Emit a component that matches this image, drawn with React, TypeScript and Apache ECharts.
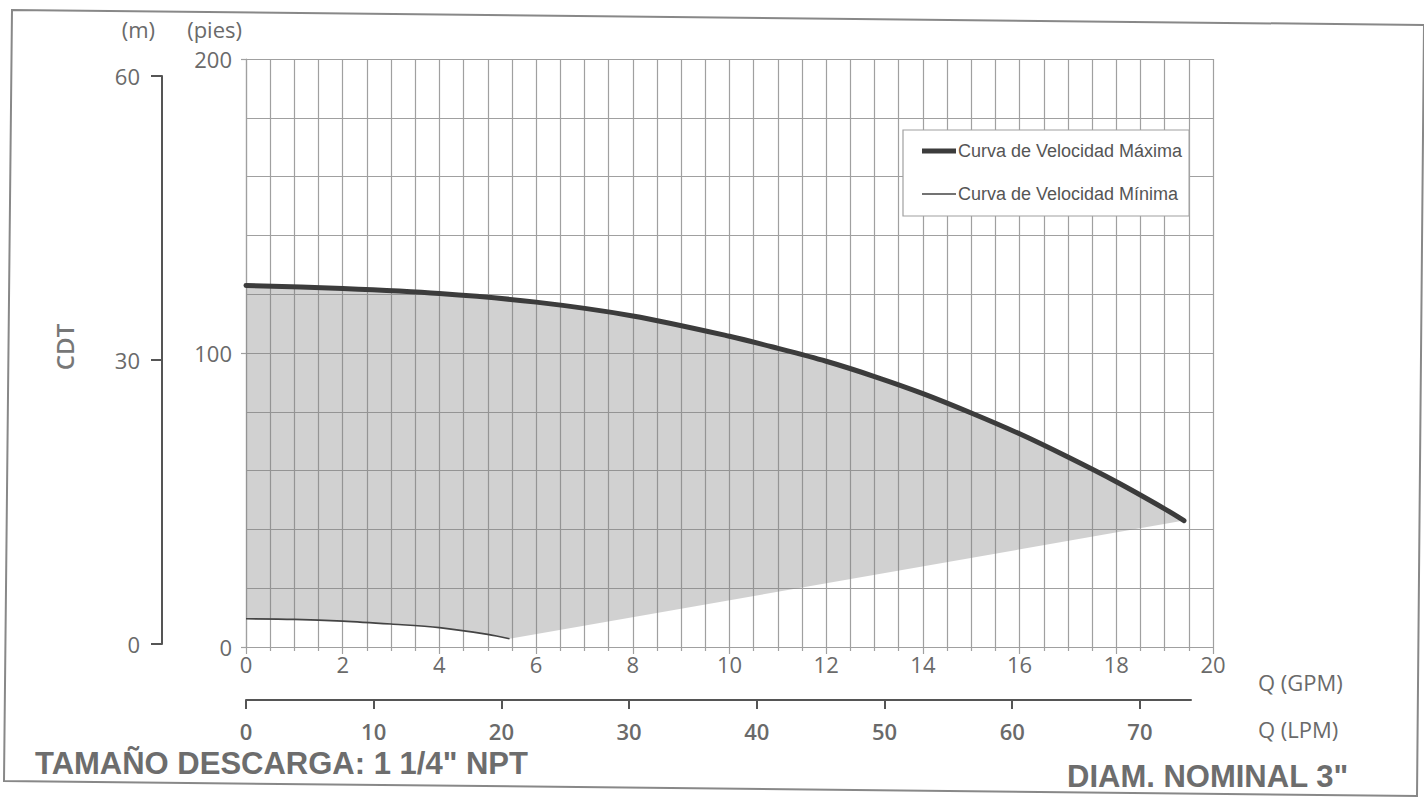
import React, { useEffect, useRef } from 'react';
import * as echarts from 'echarts';

// Q in GPM, H in feet (pies)
const maxQ = [0, 2, 4, 6, 8, 10, 11, 12, 13, 14, 15, 16, 17, 18, 19, 19.4];
const maxH = [123, 121.9, 120.2, 117.3, 112.6, 105.7, 101.6, 97.2, 92, 86.2, 79.6, 72.5, 64.6, 56.2, 47, 43];
const minQ = [0, 1, 2, 3, 4, 5, 5.45];
const minH = [9.6, 9.4, 8.8, 7.8, 6.6, 4.3, 2.8];
const lpmTicks = [0, 10, 20, 30, 40, 50, 60, 70];
const nameMax = 'Curva de Velocidad Máxima';
const nameMin = 'Curva de Velocidad Mínima';

const GRID = '#a0a0a0';
const TXT = '#6a6a6a';
const SANS = 'Open Sans';

export default function App() {
  const ref = useRef<HTMLDivElement>(null);
  useEffect(() => {
    if (!ref.current) return;
    const chart = echarts.init(ref.current, null, { renderer: 'svg' });
    const maxData = maxQ.map((q, i) => [q, maxH[i]]);
    const minData = minQ.map((q, i) => [q, minH[i]]);
    const region = [...maxData, ...minData.slice().reverse()];
    const gl = { color: GRID, width: 1.2 };
    const option: any = {
      animation: false,
      backgroundColor: '#fff',
      grid: [
        { left: 246, top: 59, width: 967, height: 588, outerBoundsMode: 'none' },
        { left: 162, top: 76, width: 1, height: 568, outerBoundsMode: 'none' },
        { left: 246, top: 699, width: 945, height: 1, outerBoundsMode: 'none' },
      ],
      xAxis: [
        {
          type: 'value', gridIndex: 0, min: 0, max: 20, interval: 2,
          axisLine: { show: true, lineStyle: gl },
          axisTick: { show: true, length: 7, lineStyle: gl },
          minorTick: { show: true, splitNumber: 4, length: 4, lineStyle: gl },
          splitLine: { show: true, lineStyle: gl },
          minorSplitLine: { show: true, lineStyle: gl },
          axisLabel: { fontFamily: SANS, fontSize: 22, color: TXT, margin: 6 },
          name: 'Q (GPM)', nameLocation: 'end', nameGap: 45,
          nameTextStyle: { fontFamily: SANS, fontSize: 22, color: TXT, verticalAlign: 'top', padding: [24, 0, 0, 0] },
        },
        { type: 'value', gridIndex: 1, show: false, min: 0, max: 1 },
        {
          type: 'value', gridIndex: 2, min: 0, max: 74, interval: 10, position: 'bottom',
          axisLine: { show: true, lineStyle: { color: '#555', width: 2 } },
          axisTick: { show: true, length: 9, customValues: lpmTicks, lineStyle: { color: '#555', width: 2 } },
          splitLine: { show: false },
          axisLabel: { fontFamily: SANS, fontSize: 22, fontWeight: 600, color: TXT, margin: 20, customValues: lpmTicks },
          name: 'Q (LPM)', nameLocation: 'end', nameGap: 67,
          nameTextStyle: { fontFamily: SANS, fontSize: 22, color: TXT, verticalAlign: 'top', padding: [18, 0, 0, 0] },
        },
      ],
      yAxis: [
        {
          type: 'value', gridIndex: 0, min: 0, max: 200, interval: 100,
          axisLine: { show: true, lineStyle: gl },
          axisTick: { show: true, length: 5, lineStyle: gl },
          minorTick: { show: false, splitNumber: 5 },
          splitLine: { show: true, lineStyle: gl },
          minorSplitLine: { show: true, lineStyle: gl },
          axisLabel: { fontFamily: SANS, fontSize: 22, color: TXT, margin: 14 },
          name: '(pies)', nameLocation: 'end', nameGap: 19,
          nameTextStyle: { fontFamily: SANS, fontSize: 22, color: TXT, align: 'right', padding: [0, 4, 0, 0] },
        },
        {
          type: 'value', gridIndex: 1, min: 0, max: 60, interval: 30,
          axisLine: { show: true, lineStyle: { color: '#555', width: 2 } },
          axisTick: { show: true, length: 11, lineStyle: { color: '#555', width: 2 } },
          splitLine: { show: false },
          axisLabel: { fontFamily: SANS, fontSize: 22, color: TXT, margin: 22 },
          name: '(m)', nameLocation: 'end', nameGap: 36,
          nameTextStyle: { fontFamily: SANS, fontSize: 22, color: TXT, align: 'right', padding: [0, 7, 0, 0] },
        },
        { type: 'value', gridIndex: 2, show: false, min: 0, max: 1 },
      ],
      legend: {
        data: [
          { name: nameMax, icon: 'path://M0,0L34,0L34,5L0,5Z' },
          { name: nameMin, icon: 'path://M0,0L34,0L34,1.5L0,1.5Z' },
        ],
        orient: 'vertical', left: 903, top: 130,
        padding: [12, 7, 13, 19], itemGap: 25, itemWidth: 34, itemHeight: 14,
        backgroundColor: '#fff', borderColor: GRID, borderWidth: 1.2,
        selectedMode: false,
        itemStyle: { borderWidth: 0 },
        textStyle: { fontFamily: 'Liberation Sans', fontSize: 18, color: '#555', padding: [0, 0, 0, -3] },
      },
      graphic: [
        {
          type: 'polygon', z: -1, silent: true,
          shape: { points: [[12, 10], [1424, 25], [1417, 796], [4, 781]] },
          style: { fill: 'none', stroke: '#888', lineWidth: 2 },
        },
        {
          type: 'text', x: 64, y: 347, rotation: Math.PI / 2, silent: true,
          style: { text: 'CDT', fontFamily: SANS, fontSize: 24, fontWeight: 600, fill: '#777', align: 'center', verticalAlign: 'middle' },
        },
        {
          type: 'text', x: 35, y: 763, silent: true,
          style: { text: 'TAMAÑO DESCARGA: 1 1/4" NPT', fontFamily: 'Liberation Sans', fontSize: 31, fontWeight: 'bold', fill: '#6d6d6d', verticalAlign: 'middle' },
        },
        {
          type: 'text', x: 1067, y: 776, silent: true,
          style: { text: 'DIAM. NOMINAL 3"', fontFamily: 'Liberation Sans', fontSize: 31, fontWeight: 'bold', fill: '#6d6d6d', verticalAlign: 'middle' },
        },
      ],
      series: [
        {
          type: 'custom', name: 'Zona de operación', xAxisIndex: 0, yAxisIndex: 0,
          data: region, silent: true, z: 1, encode: { x: 0, y: 1 },
          renderItem: (params: any, api: any) => {
            if (params.dataIndex !== 0) return null;
            const pts = region.map((p) => api.coord(p));
            return { type: 'polygon', shape: { points: pts }, style: { fill: 'rgba(128,128,128,0.36)' } };
          },
        },
        {
          type: 'line', name: nameMax, xAxisIndex: 0, yAxisIndex: 0, data: maxData,
          smooth: 0.3, symbol: 'none', z: 3,
          itemStyle: { color: '#3c3c3c' },
          lineStyle: { color: '#3c3c3c', width: 5, cap: 'round' },
        },
        {
          type: 'line', name: nameMin, xAxisIndex: 0, yAxisIndex: 0, data: minData,
          smooth: 0.3, symbol: 'none', z: 3,
          itemStyle: { color: '#444' },
          lineStyle: { color: '#444', width: 1.6 },
        },
      ],
    };
    chart.setOption(option);
    return () => chart.dispose();
  }, []);
  return (
    <div
      ref={ref}
      style={{ position: 'fixed', left: 0, top: 0, width: 1424, height: 798, background: '#fff' }}
    />
  );
}
